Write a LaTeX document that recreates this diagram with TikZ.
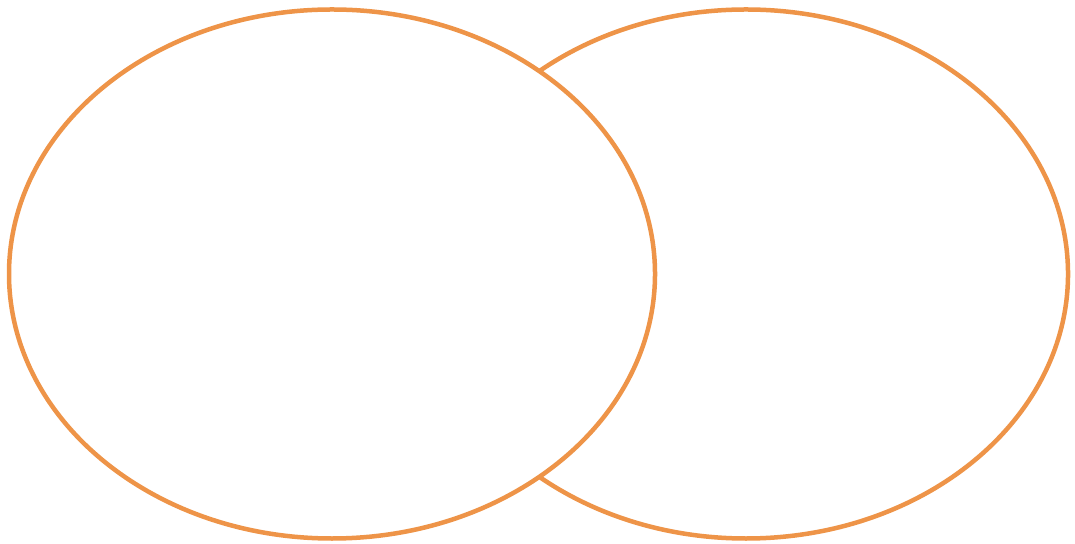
\documentclass[tikz,border=0pt]{standalone}
\usepackage{tikz}
\definecolor{ringorange}{RGB}{238,148,72}

\begin{document}
\begin{tikzpicture}[
  ring/.style={draw=ringorange, line width=0.045cm, fill=white}
]
\useasboundingbox (0,0) rectangle (10.75,5.43);
% right set first, left set covers it
\draw[ring] (7.46,2.69) coordinate (rightc) ellipse [x radius=3.22, y radius=2.645];
\draw[ring] (3.32,2.69) coordinate (leftc) ellipse [x radius=3.23, y radius=2.645];
\end{tikzpicture}
\end{document}
